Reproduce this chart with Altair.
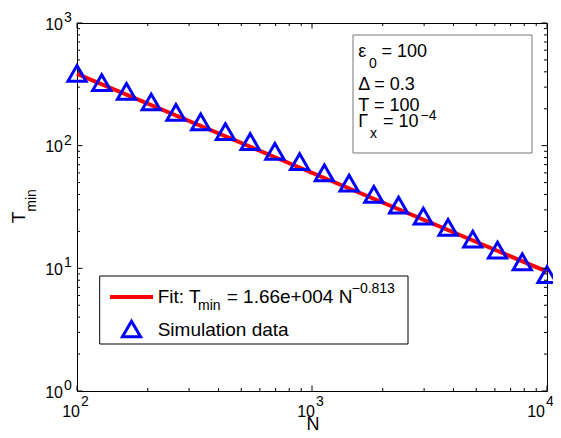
import altair as alt
import pandas as pd

# ---- data ----
N = [100, 127.4, 162.4, 206.9, 263.7, 336.0, 428.1, 545.6, 695.2, 885.9,
     1128.8, 1438.4, 1833.0, 2335.7, 2976.4, 3792.7, 4832.9, 6158.5, 7847.6, 10000]
T_min = [389, 327, 277, 227, 187, 156, 130, 108, 89.8, 74,
         60, 49.4, 40.1, 32.7, 26.6, 21.6, 17.3, 14.1, 11.3, 8.9]
fit_N = [100, 10000]
fit_T = [385, 9.4]

x_major = [100, 1000, 10000]
x_exp = ["2", "3", "4"]
y_major = [1, 10, 100, 1000]
y_exp = ["0", "1", "2", "3"]
x_minor = [m * d for d in (100, 1000) for m in range(2, 10)]
y_minor = [m * d for d in (1, 10, 100) for m in range(2, 10)]

W, H = 470, 368
FONT = "Liberation Sans"
FS = 19
FB = 18
FSS = 14

xs = alt.Scale(type="log", domain=[100, 10000], nice=False)
ys = alt.Scale(type="log", domain=[1, 1000], nice=False)

pts_df = pd.DataFrame({"N": N, "T": T_min})
fit_df = pd.DataFrame({"N": fit_N, "T": fit_T})

fit_line = alt.Chart(fit_df).mark_line(color="#ff0000", strokeWidth=4, clip=False).encode(
    x=alt.X("N:Q", scale=xs, axis=None), y=alt.Y("T:Q", scale=ys, axis=None))
points = alt.Chart(pts_df).mark_point(shape="triangle-up", filled=False, color="#0000ff",
                                      strokeWidth=3, size=330, opacity=1, clip=False).encode(
    x=alt.X("N:Q", scale=xs, axis=None), y=alt.Y("T:Q", scale=ys, axis=None))

def xticks(vals, L):
    d = pd.DataFrame({"v": vals})
    b = alt.Chart(d).mark_rule(color="black", strokeWidth=1).encode(
        x=alt.X("v:Q", scale=xs, axis=None), y=alt.value(H), y2=alt.value(H - L))
    t = alt.Chart(d).mark_rule(color="black", strokeWidth=1).encode(
        x=alt.X("v:Q", scale=xs, axis=None), y=alt.value(0), y2=alt.value(L))
    return [b, t]

def yticks(vals, L):
    d = pd.DataFrame({"v": vals})
    l = alt.Chart(d).mark_rule(color="black", strokeWidth=1).encode(
        y=alt.Y("v:Q", scale=ys, axis=None), x=alt.value(0), x2=alt.value(L))
    r = alt.Chart(d).mark_rule(color="black", strokeWidth=1).encode(
        y=alt.Y("v:Q", scale=ys, axis=None), x=alt.value(W), x2=alt.value(W - L))
    return [l, r]

ticks = xticks(x_major, 5.5) + xticks(x_minor, 3) + yticks(y_major, 5.5) + yticks(y_minor, 3)

xl_df = pd.DataFrame({"v": x_major, "e": x_exp, "b": ["10"] * 3})
yl_df = pd.DataFrame({"v": y_major, "e": y_exp, "b": ["10"] * 4})

def xlabels(flt, dxb, dxe):
    base = alt.Chart(xl_df).transform_filter(flt).mark_text(
        align="right", baseline="alphabetic", fontSize=16, font=FONT, color="black", dx=dxb).encode(
        x=alt.X("v:Q", scale=xs, axis=None), y=alt.value(H + 26), text="b:N")
    exp = alt.Chart(xl_df).transform_filter(flt).mark_text(
        align="left", baseline="alphabetic", fontSize=FSS, font=FONT, color="black", dx=dxe).encode(
        x=alt.X("v:Q", scale=xs, axis=None), y=alt.value(H + 15), text="e:N")
    return [base, exp]

xlabs = xlabels("datum.v < 5000", 3, 4) + xlabels("datum.v > 5000", -2, -1)

ylab_base = alt.Chart(yl_df).mark_text(align="right", baseline="alphabetic", fontSize=16,
                                       font=FONT, color="black", dy=6.5).encode(
    y=alt.Y("v:Q", scale=ys, axis=None), x=alt.value(-14), text="b:N")
ylab_exp = alt.Chart(yl_df).mark_text(align="left", baseline="alphabetic", fontSize=FSS,
                                      font=FONT, color="black", dy=-1).encode(
    y=alt.Y("v:Q", scale=ys, axis=None), x=alt.value(-13), text="e:N")

one = pd.DataFrame({"a": [0]})
legend_box = alt.Chart(one).mark_rect(fill="white", stroke="black", strokeWidth=1).encode(
    x=alt.value(22.7), x2=alt.value(331), y=alt.value(253), y2=alt.value(321))
text_box = alt.Chart(one).mark_rect(fill="white", stroke="#777777", strokeWidth=1).encode(
    x=alt.value(276), x2=alt.value(455), y=alt.value(12), y2=alt.value(130))
leg_line = alt.Chart(one).mark_rule(color="#ff0000", strokeWidth=4).encode(
    x=alt.value(33), x2=alt.value(76), y=alt.value(274))
leg_pt = alt.Chart(one).mark_point(shape="triangle-up", filled=False, color="#0000ff",
                                   strokeWidth=3, size=330, opacity=1).encode(
    x=alt.value(54.5), y=alt.value(306))

ann_txt = ["\u03b5", "0", "= 100", "\u0394 = 0.3", "T = 100", "\u0393", "x", "= 10", "\u22124",
           "Fit: T", "min", "= 1.66e+004 N", "\u22120.813", "Simulation data", "N"]
ann_x = [281.3, 292, 304.5, 281.3, 281.3, 281.3, 293, 306, 343.5,
         80.7, 121, 149.7, 274.7, 80.7, 229.5]
ann_y = [34.3, 45, 34.3, 67, 87.5, 103.5, 114.7, 103.5, 97,
         280.3, 287, 280.3, 269.7, 313, 407]
ann_fs = [FB, FSS, FB, FB, FB, FB, FSS, FB, FSS,
          FS, FSS, FS, FSS, FS, FB]
ann_df = pd.DataFrame({"px": ann_x, "py": ann_y, "txt": ann_txt, "fs": ann_fs})
ann = alt.Chart(ann_df).mark_text(align="left", baseline="alphabetic", font=FONT, color="black").encode(
    x=alt.X("px:Q", scale=None, axis=None), y=alt.Y("py:Q", scale=None, axis=None),
    text="txt:N", size=alt.Size("fs:Q", scale=None, legend=None))

rot_df = pd.DataFrame({"px": [-52, -41], "py": [200.3, 188.7], "txt": ["T", "min"], "fs": [FS, FSS]})
rot = alt.Chart(rot_df).mark_text(align="left", baseline="alphabetic", font=FONT, color="black", angle=270).encode(
    x=alt.X("px:Q", scale=None, axis=None), y=alt.Y("py:Q", scale=None, axis=None),
    text="txt:N", size=alt.Size("fs:Q", scale=None, legend=None))

chart = alt.layer(
    fit_line, points, *ticks, *xlabs, ylab_base, ylab_exp,
    text_box, legend_box, leg_line, leg_pt, ann, rot
).properties(
    width=W, height=H,
    autosize=alt.AutoSizeParams(type="none"),
    padding={"left": 69, "top": 15, "right": 6, "bottom": 39},
    background="white",
).configure_view(stroke="black", strokeWidth=1)

chart.save("out.html", embed_options={"renderer": "svg", "actions": False})
